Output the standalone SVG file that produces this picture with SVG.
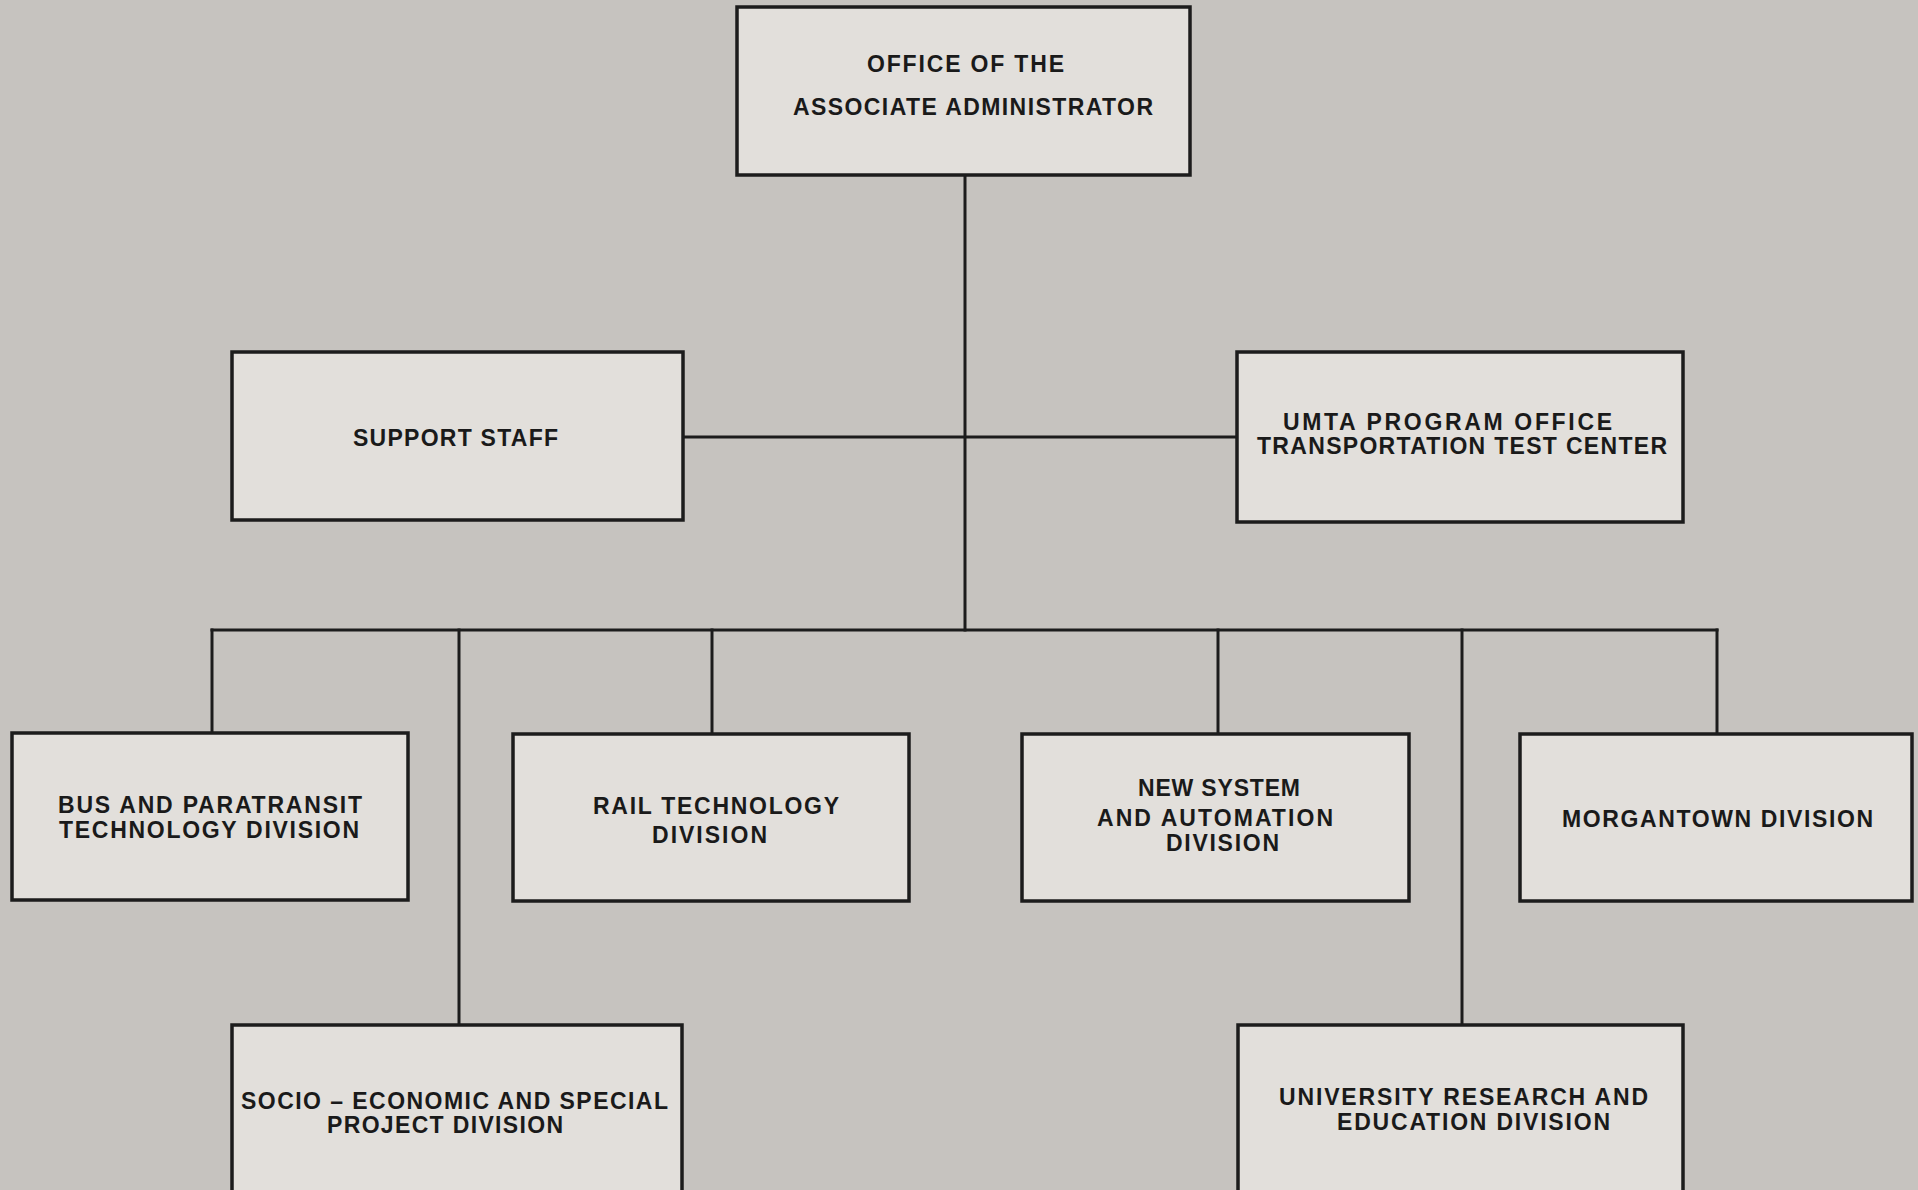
<svg xmlns="http://www.w3.org/2000/svg" width="1918" height="1190" viewBox="0 0 1918 1190">
<style>
.box{fill:#e2dfdb;stroke:#1c1c1c;stroke-width:3.5}
.ln{stroke:#1c1c1c;stroke-width:3;fill:none;stroke-linecap:square}
text{font-family:"Liberation Sans",Arial,Helvetica,sans-serif;font-weight:bold;font-size:23px;fill:#1a1a1a}
</style>
<rect x="0" y="0" width="1918" height="1190" fill="#c6c3bf"/>
<g id="connectors">
<line class="ln" x1="965" y1="175" x2="965" y2="630"/>
<line class="ln" x1="683" y1="437" x2="1237" y2="437"/>
<line class="ln" x1="212" y1="630" x2="1717" y2="630"/>
<line class="ln" x1="212" y1="630" x2="212" y2="733"/>
<line class="ln" x1="459" y1="630" x2="459" y2="1025"/>
<line class="ln" x1="712" y1="630" x2="712" y2="733"/>
<line class="ln" x1="1218" y1="630" x2="1218" y2="734"/>
<line class="ln" x1="1462" y1="630" x2="1462" y2="1025"/>
<line class="ln" x1="1717" y1="630" x2="1717" y2="734"/>
</g>
<g id="office">
<rect class="box" x="737" y="7" width="453" height="168"/>
<text x="867" y="72" textLength="197" lengthAdjust="spacing">OFFICE OF THE</text>
<text x="793" y="115" textLength="360" lengthAdjust="spacing">ASSOCIATE ADMINISTRATOR</text>
</g>
<g id="support">
<rect class="box" x="232" y="352" width="451" height="168"/>
<text x="353" y="446" textLength="205" lengthAdjust="spacing">SUPPORT STAFF</text>
</g>
<g id="umta">
<rect class="box" x="1237" y="352" width="446" height="170"/>
<text x="1283" y="430" textLength="329" lengthAdjust="spacing">UMTA  PROGRAM OFFICE</text>
<text x="1257" y="454" textLength="410" lengthAdjust="spacing">TRANSPORTATION TEST CENTER</text>
</g>
<g id="bus">
<rect class="box" x="12" y="733" width="396" height="167"/>
<text x="58" y="813" textLength="304" lengthAdjust="spacing">BUS AND PARATRANSIT</text>
<text x="59" y="838" textLength="300" lengthAdjust="spacing">TECHNOLOGY DIVISION</text>
</g>
<g id="rail">
<rect class="box" x="513" y="734" width="396" height="167"/>
<text x="593" y="814" textLength="246" lengthAdjust="spacing">RAIL TECHNOLOGY</text>
<text x="652" y="843" textLength="115" lengthAdjust="spacing">DIVISION</text>
</g>
<g id="newsystem">
<rect class="box" x="1022" y="734" width="387" height="167"/>
<text x="1138" y="796" textLength="162" lengthAdjust="spacing">NEW SYSTEM</text>
<text x="1097" y="826" textLength="236" lengthAdjust="spacing">AND AUTOMATION</text>
<text x="1166" y="851" textLength="113" lengthAdjust="spacing">DIVISION</text>
</g>
<g id="morgantown">
<rect class="box" x="1520" y="734" width="392" height="167"/>
<text x="1562" y="827" textLength="311" lengthAdjust="spacing">MORGANTOWN DIVISION</text>
</g>
<g id="socio">
<rect class="box" x="232" y="1025" width="450" height="170"/>
<text x="241" y="1109" textLength="427" lengthAdjust="spacing">SOCIO – ECONOMIC AND SPECIAL</text>
<text x="327" y="1133" textLength="236" lengthAdjust="spacing">PROJECT DIVISION</text>
</g>
<g id="university">
<rect class="box" x="1238" y="1025" width="445" height="170"/>
<text x="1279" y="1105" textLength="369" lengthAdjust="spacing">UNIVERSITY RESEARCH AND</text>
<text x="1337" y="1130" textLength="273" lengthAdjust="spacing">EDUCATION DIVISION</text>
</g>
</svg>
